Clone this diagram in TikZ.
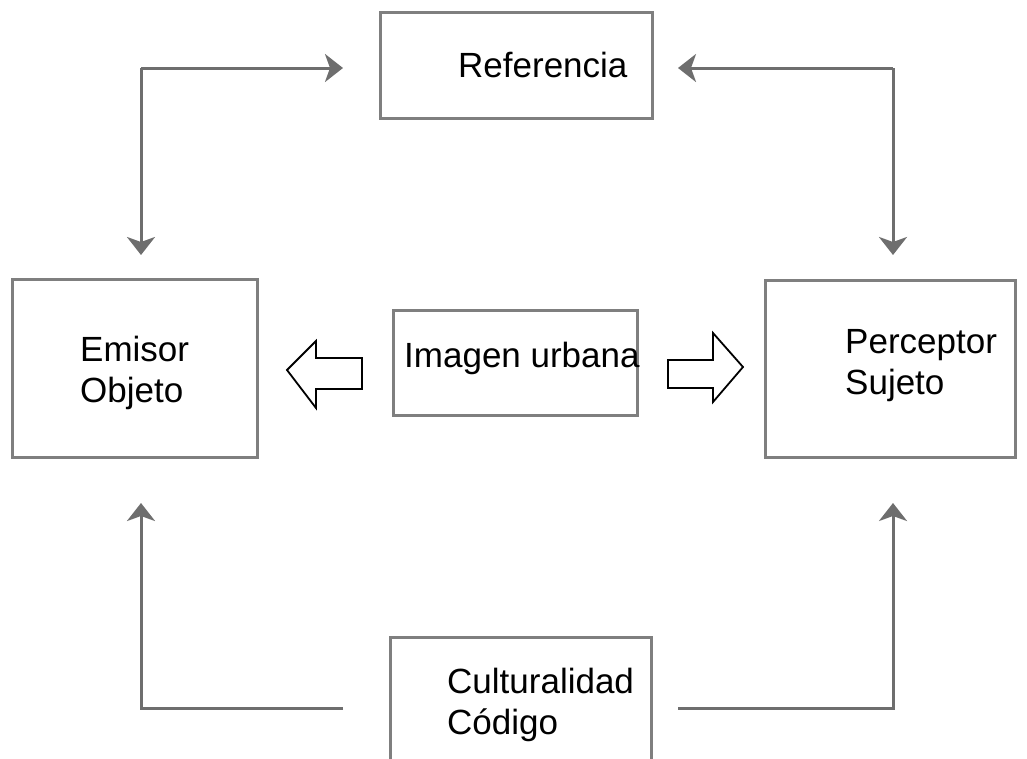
\documentclass[tikz,border=0pt]{standalone}
\usepackage{fontspec}
\setmainfont{Liberation Sans}
\usetikzlibrary{arrows.meta}
\definecolor{boxgray}{HTML}{7F7F7F}
\definecolor{linegray}{HTML}{6E6E6E}
\tikzset{
  boxline/.style={draw=boxgray, line width=3pt},
  conn/.style={draw=linegray, line width=3pt, -{Stealth[length=18pt,width=28pt,inset=5pt]}},
  blockarrow/.style={draw=black, line width=1.8pt, fill=white, line join=miter},
  lbl/.style={anchor=base west, inner sep=0pt, font=\fontsize{35}{41}\selectfont, align=left}
}
\begin{document}
\begin{tikzpicture}[x=1pt,y=-1pt]
\useasboundingbox (0,0) rectangle (1027,758);
% boxes
\node[boxline, inner sep=0pt, minimum width=272pt, minimum height=106pt] (ref) at (516,65) {};
\node[boxline, inner sep=0pt, minimum width=245pt, minimum height=178pt] (emi) at (134.5,368.5) {};
\node[boxline, inner sep=0pt, minimum width=244pt, minimum height=105pt] (img) at (515,362.5) {};
\node[boxline, inner sep=0pt, minimum width=250pt, minimum height=177pt] (per) at (890,368.5) {};
\draw[boxline] (390,762) -- (390,637) -- (651,637) -- (651,762);
% texts (base = baseline of the last line)
\node[lbl] (reft) at (458,77) {Referencia};
\node[lbl] (emit) at (80,402) {Emisor\\Objeto};
\node[lbl] (imgt) at (404,367) {Imagen urbana};
\node[lbl] (pert) at (845,394) {Perceptor\\Sujeto};
\node[lbl] (cult) at (447,734) {Culturalidad\\Código};
% connector coordinates
\coordinate (tl) at (141,68);
\coordinate (tlr) at (343,68);
\coordinate (tld) at (141,255);
\coordinate (tr) at (893,68);
\coordinate (trl) at (678,68);
\coordinate (trd) at (893,255);
\coordinate (bl) at (141,708);
\coordinate (blr) at (343,708);
\coordinate (blu) at (141,503);
\coordinate (br) at (893,708);
\coordinate (brl) at (678,708);
\coordinate (bru) at (893,503);
% connectors
\draw[conn] (tl) -- (tlr);
\draw[conn] (tl) -- (tld);
\draw[conn] (tr) -- (trl);
\draw[conn] (tr) -- (trd);
\draw[conn] (blr) -- (bl) -- (blu);
\draw[conn] (brl) -- (br) -- (bru);
% block arrows
\draw[blockarrow] (362,358) -- (316,358) -- (316,341) -- (287,370) -- (316,408) -- (316,389) -- (362,389) -- cycle;
\draw[blockarrow] (668,360) -- (713,360) -- (713,333) -- (743,367) -- (713,402) -- (713,388) -- (668,388) -- cycle;
\end{tikzpicture}
\end{document}
